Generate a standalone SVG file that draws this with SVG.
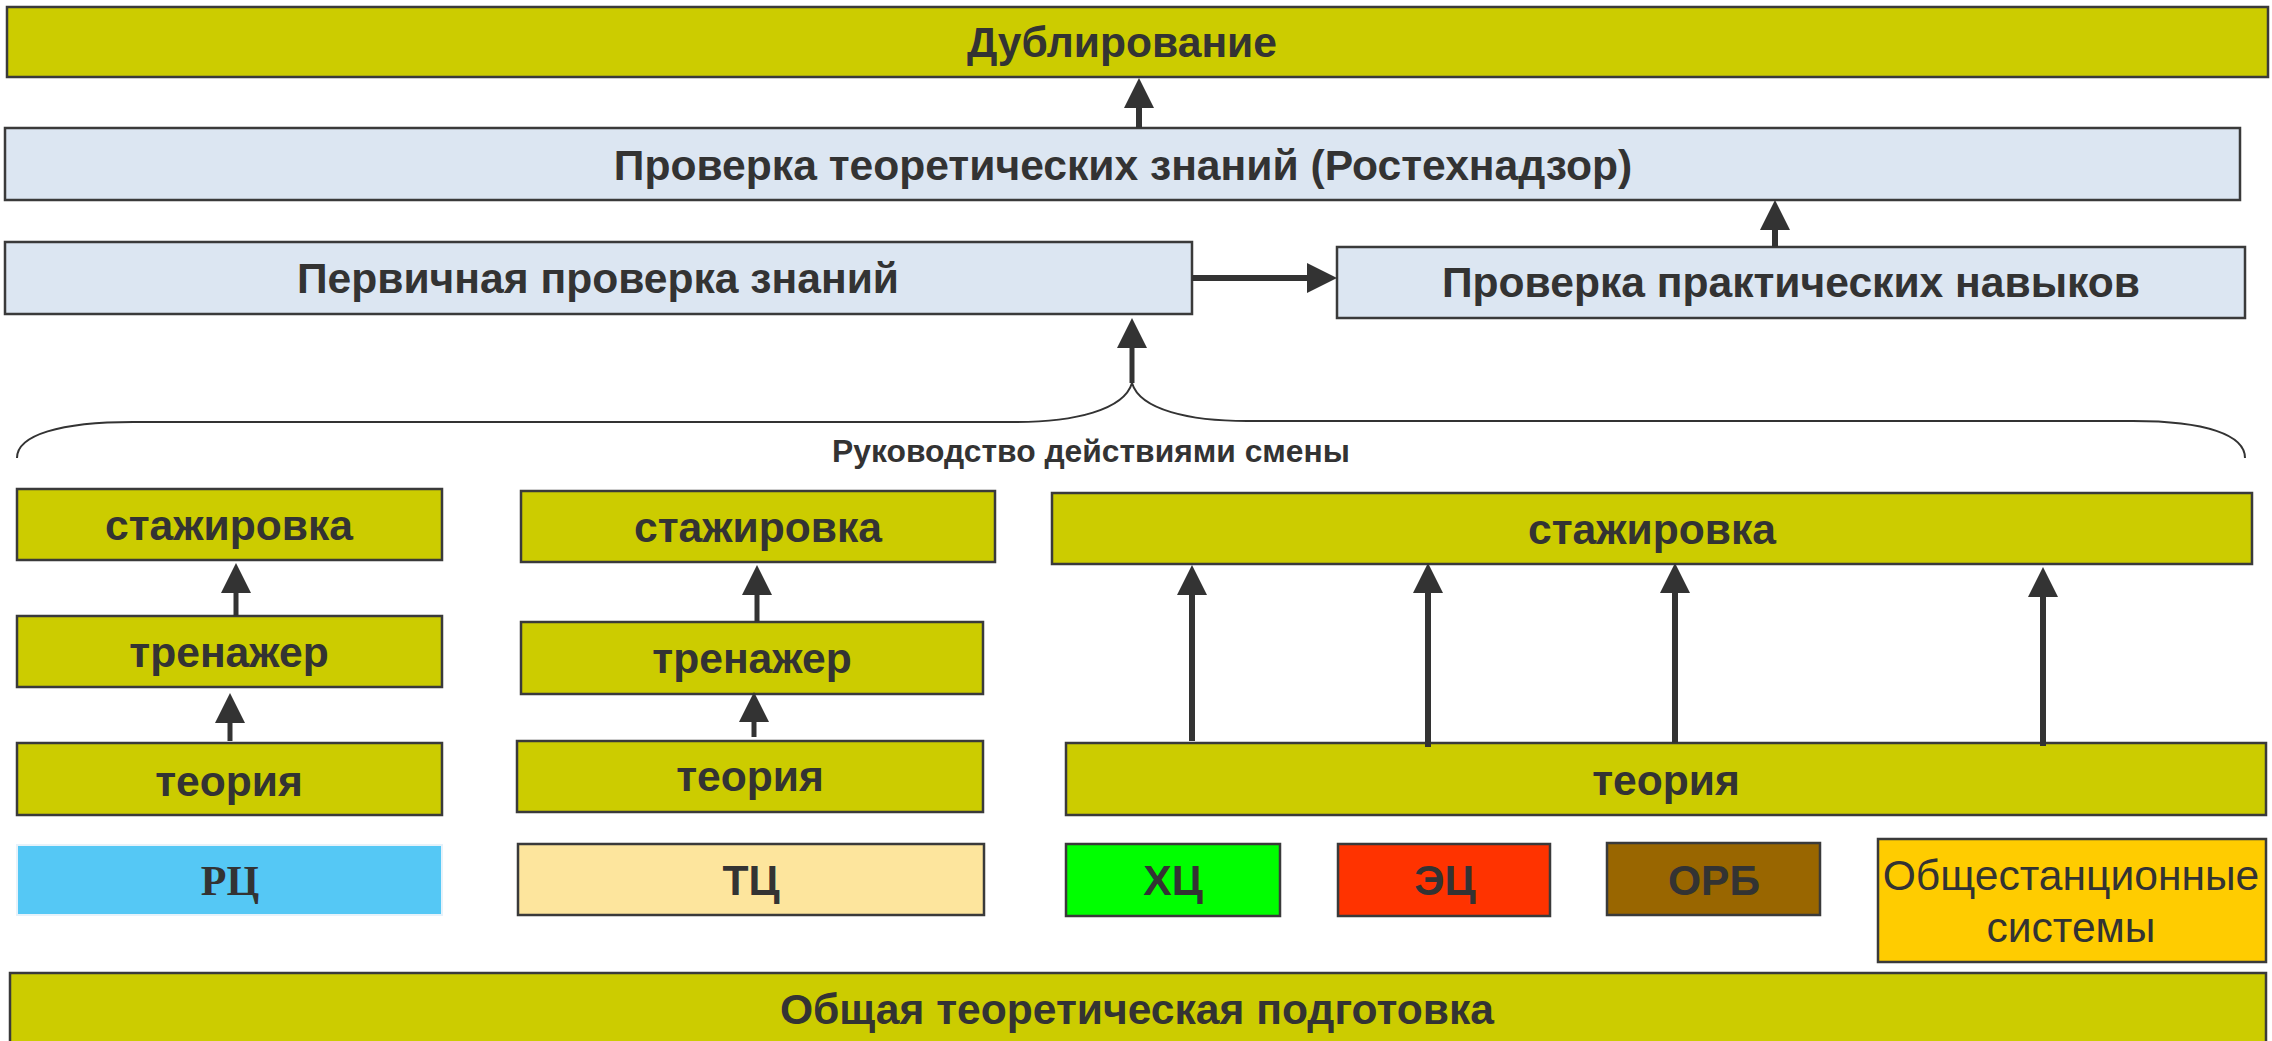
<svg xmlns="http://www.w3.org/2000/svg" width="2272" height="1041" viewBox="0 0 2272 1041">
<defs>
<style>
.bx{stroke:#3a3a3a;stroke-width:2.5}
.ol{fill:#CCCC00}
.lb{fill:#DCE6F2}
.t{font-family:"Liberation Sans",Arial,sans-serif;font-weight:bold;font-size:42.6px;fill:#333333;text-anchor:middle}
.tn{font-family:"Liberation Sans",Arial,sans-serif;font-weight:normal;font-size:42.6px;fill:#333333;text-anchor:middle}
.ts{font-family:"Liberation Serif","Times New Roman",serif;font-weight:bold;font-size:42px;fill:#333333;text-anchor:middle}
.ar{stroke:#333333;stroke-width:6;fill:none;marker-end:url(#ah)}
.br{stroke:#333333;stroke-width:2;fill:none}
</style>
<marker id="ah" viewBox="0 0 30 30" markerWidth="30" markerHeight="30" refX="0" refY="15" markerUnits="userSpaceOnUse" orient="auto">
<path d="M0,0 L30,15 L0,30 z" fill="#333333"/>
</marker>
</defs>
<rect width="2272" height="1041" fill="#ffffff"/>

<g id="dublirovanie"><rect class="bx ol" x="7" y="7" width="2261" height="70"/><text class="t" x="1122" y="57">Дублирование</text></g>
<g id="proverka-teor"><rect class="bx lb" x="5" y="128" width="2235" height="72"/><text class="t" x="1123" y="180">Проверка теоретических знаний (Ростехнадзор)</text></g>
<g id="pervichnaya"><rect class="bx lb" x="5" y="242" width="1187" height="72"/><text class="t" x="598" y="293">Первичная проверка знаний</text></g>
<g id="prakt"><rect class="bx lb" x="1337" y="247" width="908" height="71"/><text class="t" x="1791" y="297">Проверка практических навыков</text></g>

<g id="rukovodstvo"><path class="br" d="M17,458 C17,435 60,422 133,422 L1017,422 C1074,422 1124,410 1132,383 C1140,410 1190,421 1247,421 L2133,421 C2206,421 2245,435 2245,458"/><text class="t" style="font-size:31.8px" x="1091" y="462">Руководство действиями смены</text></g>

<g id="rc-stazh"><rect class="bx ol" x="17" y="489" width="425" height="71"/><text class="t" x="229" y="540">стажировка</text></g>
<g id="rc-tren"><rect class="bx ol" x="17" y="616" width="425" height="71"/><text class="t" x="229" y="667">тренажер</text></g>
<g id="rc-teor"><rect class="bx ol" x="17" y="743" width="425" height="72"/><text class="t" x="229" y="796">теория</text></g>

<g id="tc-stazh"><rect class="bx ol" x="521" y="491" width="474" height="71"/><text class="t" x="758" y="542">стажировка</text></g>
<g id="tc-tren"><rect class="bx ol" x="521" y="622" width="462" height="72"/><text class="t" x="752" y="673">тренажер</text></g>
<g id="tc-teor"><rect class="bx ol" x="517" y="741" width="466" height="71"/><text class="t" x="750" y="791">теория</text></g>

<g id="r-stazh"><rect class="bx ol" x="1052" y="493" width="1200" height="71"/><text class="t" x="1652" y="544">стажировка</text></g>
<g id="r-teor"><rect class="bx ol" x="1066" y="743" width="1200" height="72"/><text class="t" x="1666" y="795">теория</text></g>

<g id="rc"><rect x="17" y="845" width="425" height="70" fill="#55C8F5" stroke="#e6f2fa" stroke-width="2"/><text class="ts" x="230" y="895">РЦ</text></g>
<g id="tc"><rect class="bx" fill="#FDE59D" x="518" y="844" width="466" height="71"/><text class="t" x="751" y="895">ТЦ</text></g>
<g id="hc"><rect class="bx" fill="#00FF00" x="1066" y="844" width="214" height="72"/><text class="t" x="1173" y="895">ХЦ</text></g>
<g id="ec"><rect class="bx" fill="#FF3300" x="1338" y="844" width="212" height="72"/><text class="t" x="1445" y="895">ЭЦ</text></g>
<g id="orb"><rect class="bx" fill="#996600" x="1607" y="843" width="213" height="72"/><text class="t" x="1714" y="895">ОРБ</text></g>
<g id="obsh"><rect class="bx" fill="#FFCC00" x="1878" y="839" width="388" height="123"/><text class="tn" x="2071" y="890">Общестанционные</text><text class="tn" x="2071" y="942">системы</text></g>

<g id="obshaya"><rect class="bx ol" x="10" y="973" width="2256" height="75"/><text class="t" x="1137" y="1024">Общая теоретическая подготовка</text></g>

<g id="connectors">
<line class="ar" x1="1139" y1="128" x2="1139" y2="108"/>
<line class="ar" x1="1775" y1="247" x2="1775" y2="230"/>
<line class="ar" x1="1192" y1="278" x2="1307" y2="278"/>
<line class="ar" style="stroke-width:5" x1="1132" y1="383" x2="1132" y2="348"/>
<line class="ar" style="stroke-width:5" x1="236" y1="616" x2="236" y2="593"/>
<line class="ar" style="stroke-width:5" x1="230" y1="741" x2="230" y2="723"/>
<line class="ar" style="stroke-width:5" x1="757" y1="622" x2="757" y2="595"/>
<line class="ar" style="stroke-width:5" x1="754" y1="737" x2="754" y2="722"/>
<line class="ar" x1="1192" y1="741" x2="1192" y2="595"/>
<line class="ar" x1="1428" y1="747" x2="1428" y2="593"/>
<line class="ar" x1="1675" y1="743" x2="1675" y2="593"/>
<line class="ar" x1="2043" y1="746" x2="2043" y2="597"/>
</g>
</svg>
